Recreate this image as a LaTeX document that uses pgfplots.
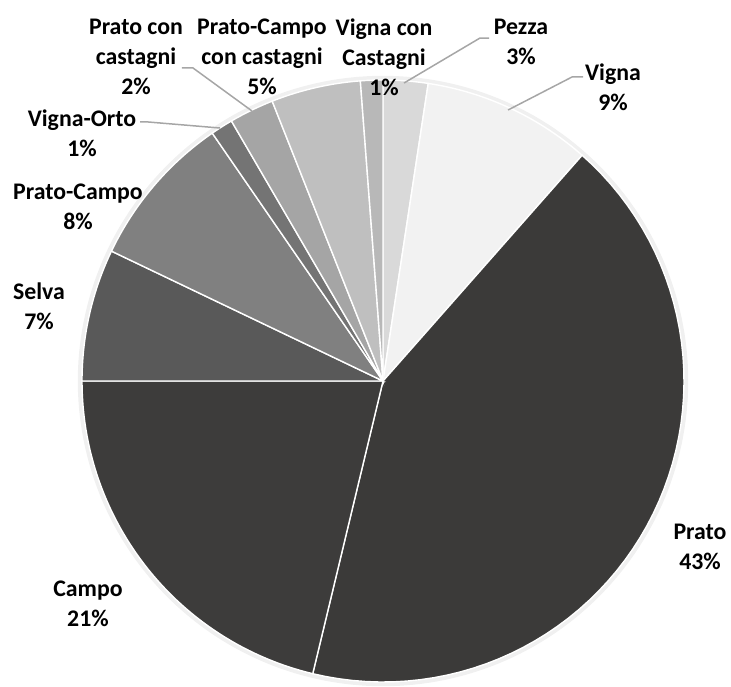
\documentclass[border=0pt]{standalone}
\usepackage{fontspec}
\setmainfont{Carlito}
\usepackage{pgfplots}
\pgfplotsset{compat=1.18}

\definecolor{cPezza}{HTML}{D9D9D9}
\definecolor{cVigna}{HTML}{F2F2F2}
\definecolor{cPrato}{HTML}{3B3A39}
\definecolor{cCampo}{HTML}{3D3C3B}
\definecolor{cSelva}{HTML}{595959}
\definecolor{cPC}{HTML}{808080}
\definecolor{cVO}{HTML}{747474}
\definecolor{cPcC}{HTML}{A5A5A5}
\definecolor{cPCcC}{HTML}{BFBFBF}
\definecolor{cVcC}{HTML}{B8B8B8}
\definecolor{leader}{HTML}{A6A6A6}

\tikzset{lbl/.style={font=\fontsize{11.9}{15}\selectfont\bfseries, align=center, inner sep=0pt}}

% #1 = share before this slice (%), #2 = share of slice (%), #3 = colour
\newcommand{\slice}[3]{%
  \addplot[fill=#3, draw=white, line width=0.7pt, data cs=polar,
    domain={90-3.6*(#1+#2)}:{90-3.6*(#1)}, samples=60]
    {1} -- (axis cs:0,0) -- cycle;}

\begin{document}
\begin{tikzpicture}
\begin{axis}[
    x=150.5pt, y=150.5pt,
    xmin=-1.2724, xmax=1.1561,
    ymin=-0.9934, ymax=1.2658,
    hide axis, clip=false,
]
\path (rel axis cs:0,0) rectangle (rel axis cs:1,1);

% soft shadow round the pie
\addplot[fill=black!6, draw=none, data cs=polar, domain=0:360, samples=240] {1.014};

% shares in per cent, clockwise from the top
\slice{0}{2.4}{cPezza}        % Pezza
\slice{2.4}{9.1}{cVigna}      % Vigna
\slice{11.5}{42.25}{cPrato}   % Prato
\slice{53.75}{21.25}{cCampo}  % Campo
\slice{75}{7.1}{cSelva}       % Selva
\slice{82.1}{8.3}{cPC}        % Prato-Campo
\slice{90.4}{1.2}{cVO}        % Vigna-Orto
\slice{91.6}{2.4}{cPcC}       % Prato con castagni
\slice{94}{4.8}{cPCcC}        % Prato-Campo con castagni
\slice{98.8}{1.2}{cVcC}       % Vigna con Castagni

% leader lines
\draw[leader, line width=0.75pt] (axis cs:0.3522,1.1395) -- (axis cs:0.3223,1.1395) -- (axis cs:0.0698,0.9900);
\draw[leader, line width=0.75pt] (axis cs:0.6645,1.0100) -- (axis cs:0.6279,1.0100) -- (axis cs:0.4153,0.9003);
\draw[leader, line width=0.75pt] (axis cs:-0.8073,0.8605) -- (axis cs:-0.7800,0.8605) -- (axis cs:-0.5415,0.8405);
\draw[leader, line width=0.75pt] (axis cs:-0.6678,1.0399) -- (axis cs:-0.6312,1.0399) -- (axis cs:-0.4352,0.8970);

% labels
\node[lbl] at (axis cs:-0.8206,1.0764) {Prato con\\castagni\\2\%};
\node[lbl] at (axis cs:-0.4020,1.0764) {Prato-Campo\\con castagni\\5\%};
\node[lbl] at (axis cs:0.0033,1.0764) {Vigna con\\Castagni\\1\%};
\node[lbl] at (axis cs:0.4585,1.1262) {Pezza\\3\%};
\node[lbl] at (axis cs:0.7641,0.9767) {Vigna\\9\%};
\node[lbl] at (axis cs:-1.0000,0.8239) {Vigna-Orto\\1\%};
\node[lbl] at (axis cs:-1.0133,0.5781) {Prato-Campo\\8\%};
\node[lbl] at (axis cs:-1.1429,0.2492) {Selva\\7\%};
\node[lbl] at (axis cs:-0.9801,-0.7409) {Campo\\21\%};
\node[lbl] at (axis cs:1.0532,-0.5515) {Prato\\43\%};
\end{axis}
\end{tikzpicture}
\end{document}
